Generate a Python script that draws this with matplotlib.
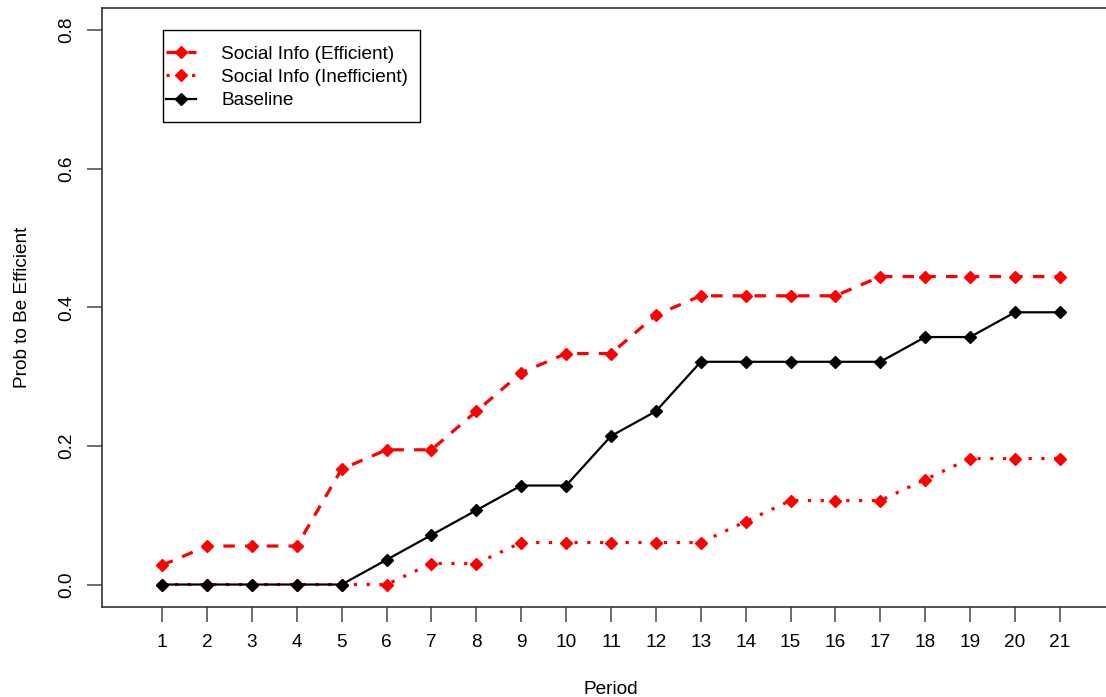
import matplotlib
matplotlib.use("Agg")
import matplotlib.pyplot as plt
from matplotlib.patches import Rectangle

plt.rcParams['font.family'] = ['Liberation Sans', 'DejaVu Sans']

periods = list(range(1, 22))
# proportions (look like counts / group size)
efficient = [1/36, 2/36, 2/36, 2/36, 6/36, 7/36, 7/36, 9/36, 11/36, 12/36, 12/36,
             14/36, 15/36, 15/36, 15/36, 15/36, 16/36, 16/36, 16/36, 16/36, 16/36]
inefficient = [0, 0, 0, 0, 0, 0, 1/33, 1/33, 2/33, 2/33, 2/33,
               2/33, 2/33, 3/33, 4/33, 4/33, 4/33, 5/33, 6/33, 6/33, 6/33]
baseline = [0, 0, 0, 0, 0, 1/28, 2/28, 3/28, 4/28, 4/28, 6/28,
            7/28, 9/28, 9/28, 9/28, 9/28, 9/28, 10/28, 10/28, 11/28, 11/28]
yticks = [0.0, 0.2, 0.4, 0.6, 0.8]

fs = 13.7
W, H = 1106, 697

fig = plt.figure(figsize=(W / 100, H / 100), dpi=100)
ax = fig.add_axes([102/W, 1 - 606.7/H, (1120 - 102)/W, (606.7 - 8)/H])

red = '#ff0000'
ax.plot(periods, efficient, color=red, lw=2.3, dashes=(3.6, 3.2), marker='D',
        markersize=5.8, label='Social Info (Efficient)')
ax.plot(periods, inefficient, color=red, lw=2.3, dashes=(1, 3.0), marker='D',
        markersize=5.8, label='Social Info (Inefficient)')
ax.plot(periods, baseline, color='black', lw=1.6, marker='D',
        markersize=5.8, label='Baseline')

ax.set_xlim(-0.34, 22.34)
ax.set_ylim(-0.032, 0.832)
ax.set_xticks(periods)
ax.set_yticks(yticks)
ax.set_yticklabels(['0.0', '0.2', '0.4', '0.6', '0.8'], rotation=90, va='center')
ax.tick_params(axis='both', direction='out', length=11, width=1.2, color='#555555',
               labelsize=fs, pad=9)
ax.tick_params(axis='y', pad=8)
for s in ax.spines.values():
    s.set_linewidth(1.2)
    s.set_color('#333333')

ax.set_xlabel('Period', fontsize=fs, labelpad=21)
ax.set_ylabel('Prob to Be Efficient', fontsize=fs, labelpad=20)

# R-style legend box: drawn separately so the padding can differ per side
ax.add_patch(Rectangle((163/W, 1 - 122/H), (420 - 163)/W, 92/H,
                       transform=fig.transFigure, facecolor='white',
                       edgecolor='black', lw=1.0, zorder=4, clip_on=False))
leg = ax.legend(loc='upper left', bbox_to_anchor=(166/W, 1 - 45.5/H),
                bbox_transform=fig.transFigure, borderaxespad=0, fontsize=fs,
                frameon=False, numpoints=1, handlelength=1.6,
                handletextpad=1.3, labelspacing=0.31, borderpad=0)
leg.set_zorder(5)

fig.savefig('out.png', dpi=100)
